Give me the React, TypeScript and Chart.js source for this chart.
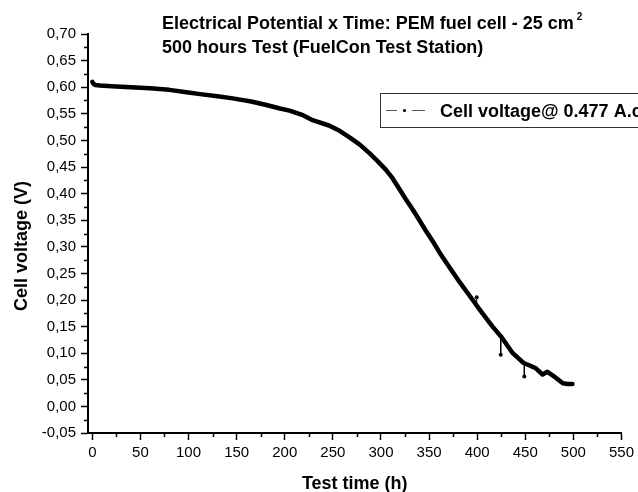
import React, { useEffect, useRef } from 'react';
import { Chart, registerables } from 'chart.js';

Chart.register(...registerables);

const FONT = '"Liberation Sans", Arial, Helvetica, sans-serif';

// Test time (h) and cell voltage (V)
const timeHours = [0, 1, 3, 8, 20, 40, 60, 80, 100, 112, 130, 146, 165, 181, 195, 205, 218, 229, 246, 257, 267, 278, 288, 297, 305, 312, 319, 326, 333, 340, 347, 354, 361, 368, 382, 395, 403, 416, 425, 437, 448, 461, 468, 473, 481, 489, 494, 499];
const cellVoltage = [0.610, 0.607, 0.604, 0.603, 0.602, 0.600, 0.598, 0.595, 0.590, 0.587, 0.583, 0.579, 0.573, 0.5665, 0.560, 0.556, 0.548, 0.538, 0.528, 0.518, 0.506, 0.492, 0.476, 0.460, 0.445, 0.429, 0.409, 0.389, 0.370, 0.350, 0.329, 0.310, 0.289, 0.270, 0.233, 0.201, 0.181, 0.150, 0.131, 0.100, 0.082, 0.0716, 0.060, 0.065, 0.055, 0.0434, 0.042, 0.042];

// isolated outlier readings (thin spikes)
const spikeTimes = [399.5, 424.5, 449];
const spikeFrom = [0.195, 0.131, 0.082];
const spikeTo = [0.205, 0.097, 0.056];

const xTickValues = [0, 50, 100, 150, 200, 250, 300, 350, 400, 450, 500, 550];
const xMinorValues = [25, 75, 125, 175, 225, 275, 325, 375, 425, 475, 525];
const yTickValues = [-0.05, 0, 0.05, 0.1, 0.15, 0.2, 0.25, 0.3, 0.35, 0.4, 0.45, 0.5, 0.55, 0.6, 0.65, 0.7];
const yMinorValues = [-0.025, 0.025, 0.075, 0.125, 0.175, 0.225, 0.275, 0.325, 0.375, 0.425, 0.475, 0.525, 0.575, 0.625, 0.675];

const titleLine1 = 'Electrical Potential x Time: PEM fuel cell - 25 cm';
const titleSup = '2';
const titleLine2 = '500 hours Test (FuelCon Test Station)';
const xAxisTitle = 'Test time (h)';
const yAxisTitle = 'Cell voltage (V)';
const legendLabel = 'Cell voltage@ 0.477 A.cm-2';

const decorPlugin = {
  id: 'decor',
  afterDraw(chart: any) {
    const ctx = chart.ctx as CanvasRenderingContext2D;
    const xs = chart.scales.x;
    const ys = chart.scales.y;
    const area = chart.chartArea;
    ctx.save();
    // minor ticks
    ctx.strokeStyle = '#000';
    ctx.lineWidth = 1.5;
    ctx.beginPath();
    for (const v of xMinorValues) {
      const px = Math.round(xs.getPixelForValue(v)) + 0.5;
      ctx.moveTo(px, area.bottom);
      ctx.lineTo(px, area.bottom + 4);
    }
    for (const v of yMinorValues) {
      const py = Math.round(ys.getPixelForValue(v)) + 0.5;
      ctx.moveTo(area.left, py);
      ctx.lineTo(area.left - 4, py);
    }
    ctx.stroke();

    ctx.fillStyle = '#000';
    // chart title
    ctx.font = `bold 18px ${FONT}`;
    ctx.textAlign = 'left';
    ctx.textBaseline = 'alphabetic';
    ctx.fillText(titleLine1, 162, 29);
    const w1 = ctx.measureText(titleLine1).width;
    ctx.fillText(titleLine2, 162, 53);
    ctx.font = `bold 10px ${FONT}`;
    ctx.fillText(titleSup, 162 + w1 + 3, 20);

    // axis titles
    ctx.font = `bold 18px ${FONT}`;
    ctx.textAlign = 'center';
    ctx.fillText(xAxisTitle, (area.left + area.right) / 2, 489);
    ctx.save();
    ctx.translate(27, 246);
    ctx.rotate(-Math.PI / 2);
    ctx.fillText(yAxisTitle, 0, 0);
    ctx.restore();

    // legend box
    ctx.fillStyle = '#fff';
    ctx.fillRect(381, 94, 300, 33);
    ctx.strokeStyle = '#333';
    ctx.lineWidth = 1;
    ctx.strokeRect(380.5, 93.5, 300, 34);
    ctx.strokeStyle = '#555';
    ctx.lineWidth = 1.2;
    ctx.beginPath();
    ctx.moveTo(386, 110.5);
    ctx.lineTo(397, 110.5);
    ctx.moveTo(412, 110.5);
    ctx.lineTo(425, 110.5);
    ctx.stroke();
    ctx.fillStyle = '#000';
    ctx.beginPath();
    ctx.arc(404.5, 110.5, 1.6, 0, Math.PI * 2);
    ctx.fill();
    ctx.font = `bold 18px ${FONT}`;
    ctx.textAlign = 'left';
    ctx.fillText(legendLabel, 440, 117);
    ctx.restore();
  },
};

export default function App() {
  const ref = useRef<HTMLCanvasElement | null>(null);

  useEffect(() => {
    if (!ref.current) return;
    const mainData = timeHours.map((t, i) => ({ x: t, y: cellVoltage[i] }));
    const spikeData: { x: number; y: number | null }[] = [];
    const spikeRadius: number[] = [];
    spikeTimes.forEach((t, i) => {
      spikeData.push({ x: t, y: spikeFrom[i] }, { x: t, y: spikeTo[i] }, { x: t, y: null });
      spikeRadius.push(0, 2, 0);
    });

    const chart = new Chart(ref.current, {
      type: 'line',
      data: {
        datasets: [
          {
            label: 'spikes',
            data: spikeData,
            borderColor: '#000',
            backgroundColor: '#000',
            borderWidth: 1,
            pointRadius: spikeRadius,
            pointBorderWidth: 0,
            spanGaps: false,
            tension: 0,
          },
          {
            label: legendLabel,
            data: mainData,
            borderColor: '#000',
            borderWidth: 4.5,
            pointRadius: 0,
            tension: 0,
            borderJoinStyle: 'round',
            borderCapStyle: 'round',
          },
        ],
      },
      options: {
        responsive: false,
        animation: false,
        devicePixelRatio: 1,
        layout: { padding: { top: 34, right: 16, bottom: 0, left: 0 } },
        plugins: {
          legend: { display: false },
          title: { display: false },
          tooltip: { enabled: false },
        },
        scales: {
          x: {
            type: 'linear',
            min: -4.5,
            max: 550,
            afterFit: (s: any) => { s.height = 59; },
            afterBuildTicks: (s: any) => { s.ticks = xTickValues.map((value) => ({ value })); },
            grid: { display: true, drawOnChartArea: false, drawTicks: true, tickLength: 7, tickWidth: 1.5, color: '#000' },
            border: { display: true, color: '#000', width: 2 },
            ticks: {
              color: '#000',
              font: { family: FONT, size: 15 },
              padding: 4,
              maxRotation: 0,
              autoSkip: false,
              callback: (v: any) => String(v),
            },
          },
          y: {
            type: 'linear',
            min: -0.05,
            max: 0.7,
            afterFit: (s: any) => { s.width = 88; },
            afterBuildTicks: (s: any) => { s.ticks = yTickValues.map((value) => ({ value })); },
            grid: { display: true, drawOnChartArea: false, drawTicks: true, tickLength: 7, tickWidth: 1.5, color: '#000' },
            border: { display: true, color: '#000', width: 2 },
            ticks: {
              color: '#000',
              font: { family: FONT, size: 15 },
              padding: 5,
              autoSkip: false,
              callback: (v: any) => Number(v).toFixed(2).replace('.', ','),
            },
          },
        },
      },
      plugins: [decorPlugin],
    } as any);
    return () => chart.destroy();
  }, []);

  return (
    <div style={{ position: 'fixed', left: 0, top: 0, width: 638, height: 492, background: '#fff' }}>
      <canvas ref={ref} width={638} height={492} style={{ display: 'block' }} />
    </div>
  );
}
